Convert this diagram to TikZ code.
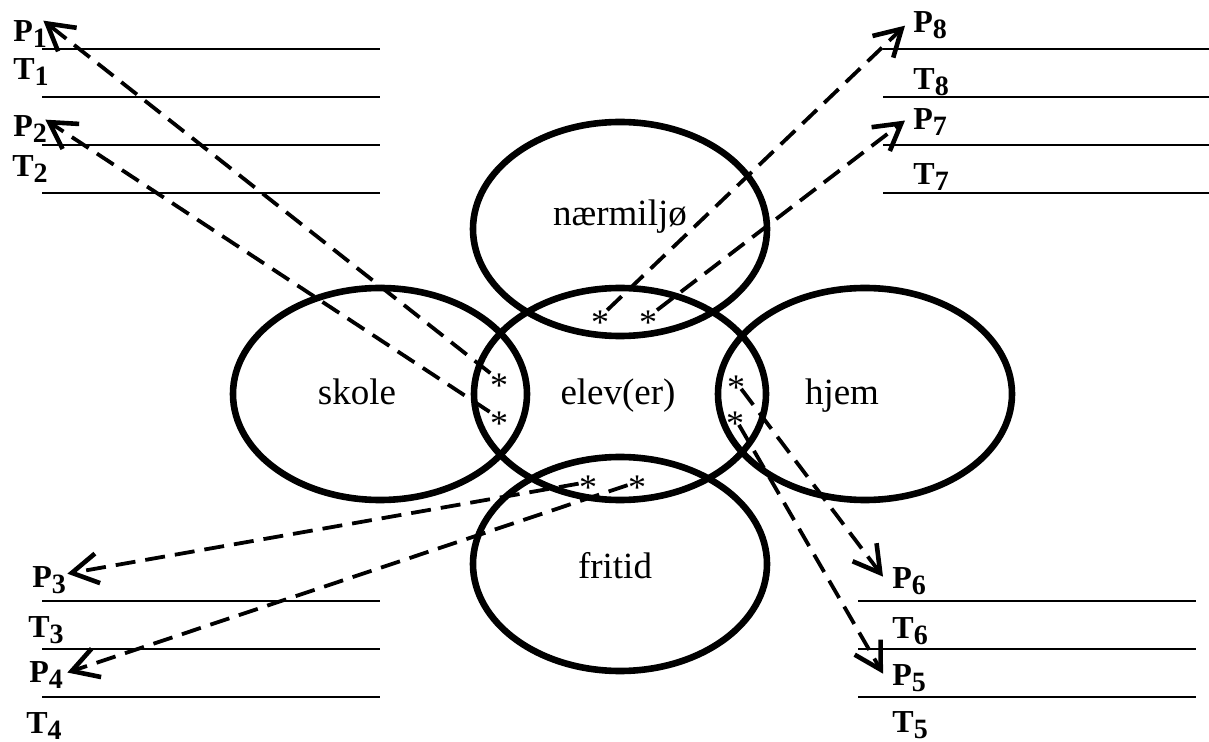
\documentclass[tikz,border=0pt]{standalone}
\usepackage{fontspec}
\setmainfont{Liberation Serif}
\usetikzlibrary{arrows.meta,positioning,calc}
\newcommand{\subl}[2]{#1\raisebox{-3pt}{\fontsize{14}{15}\selectfont #2}}
\newcommand{\astr}{\raisebox{-0.48em}[0.18em][0.18em]{*}}

\begin{document}
\begin{tikzpicture}[x=0.5pt,y=-0.5pt,
    zone/.style={draw, line width=3.3pt},
    rule/.style={line width=1pt},
    link/.style={dash pattern=on 10pt off 5pt, line width=1.9pt,
      -{Straight Barb[length=13pt,width=15pt,line width=2.3pt]}},
    lbl/.style={anchor=base west, inner sep=0pt, font=\fontsize{16}{18}\selectfont\bfseries},
    word/.style={anchor=base, inner sep=0pt, font=\fontsize{18.5}{20}\selectfont},
    starmark/.style={inner sep=0pt, font=\fontsize{18}{20}\selectfont}]
  \useasboundingbox (0,0) rectangle (1209,742);
  % the five areas
  \draw[zone] (620,229) ellipse (73.5pt and 53.5pt);
  \draw[zone] (620,394) ellipse (73pt and 53pt);
  \draw[zone] (380,394) ellipse (73.5pt and 53pt);
  \draw[zone] (865,394) ellipse (73.5pt and 53pt);
  \draw[zone] (620,564) ellipse (73.5pt and 53.5pt);
  \node[word] (naer) at (620,226) {nærmiljø};
  \node[word] (elev) at (618,405) {elev(er)};
  \node[word] (skole) at (357,405) {skole};
  \node[word] (hjem) at (842,405) {hjem};
  \node[word] (fritid) at (615,578) {fritid};
  % writing lines
  \foreach \y in {49,97,145,193} \draw[rule] (42,\y) -- (380,\y);
  \foreach \y in {49,97,145,193} \draw[rule] (883,\y) -- (1209,\y);
  \foreach \y in {601,649,697} \draw[rule] (42,\y) -- (380,\y);
  \foreach \y in {601,649,697} \draw[rule] (858,\y) -- (1196,\y);
  % P and T labels
  \node[lbl] (p1) at (13,42) {\subl{P}{1}};
  \node[lbl] (t1) at (13,80) {\subl{T}{1}};
  \node[lbl] (p2) at (13,137) {\subl{P}{2}};
  \node[lbl] (t2) at (12,177) {\subl{T}{2}};
  \node[lbl] (p8) at (913,33) {\subl{P}{8}};
  \node[lbl] (t8) at (913,90) {\subl{T}{8}};
  \node[lbl] (p7) at (913,130) {\subl{P}{7}};
  \node[lbl] (t7) at (913,185) {\subl{T}{7}};
  \node[lbl] (p3) at (32,587) {\subl{P}{3}};
  \node[lbl] (t3) at (28,637) {\subl{T}{3}};
  \node[lbl] (p4) at (29,682) {\subl{P}{4}};
  \node[lbl] (t4) at (26,733) {\subl{T}{4}};
  \node[lbl] (p6) at (892,588) {\subl{P}{6}};
  \node[lbl] (t6) at (892,638) {\subl{T}{6}};
  \node[lbl] (p5) at (892,685) {\subl{P}{5}};
  \node[lbl] (t5) at (892,732) {\subl{T}{5}};
  % stars in the overlaps
  \node[starmark] (s1) at (499,380) {\astr};
  \node[starmark] (s2) at (499,418) {\astr};
  \node[starmark] (s8) at (600,317) {\astr};
  \node[starmark] (s7) at (648,317) {\astr};
  \node[starmark] (s3) at (588,482) {\astr};
  \node[starmark] (s4) at (637,482) {\astr};
  \node[starmark] (s6) at (736,382) {\astr};
  \node[starmark] (s5) at (735,418) {\astr};
  % dashed arrows
  \draw[link] (s1) -- ([xshift=-2pt]p1.north east);
  \draw[link] (s2) -- ([shift={(-1pt,-2pt)}]p2.north east);
  \draw[link] (s8) -- ([xshift=-4pt]p8.west);
  \draw[link] (s7) -- ([shift={(-4pt,1pt)}]p7.west);
  \draw[link] (s3) -- ([shift={(0.5pt,3pt)}]p3.east);
  \draw[link] (s4) -- ([shift={(2pt,1pt)}]p4.east);
  \draw[link] (s6) -- ([shift={(-4.5pt,2pt)}]p6.west);
  \draw[link] (s5) -- ([shift={(-4.5pt,2pt)}]p5.west);
\end{tikzpicture}
\end{document}
